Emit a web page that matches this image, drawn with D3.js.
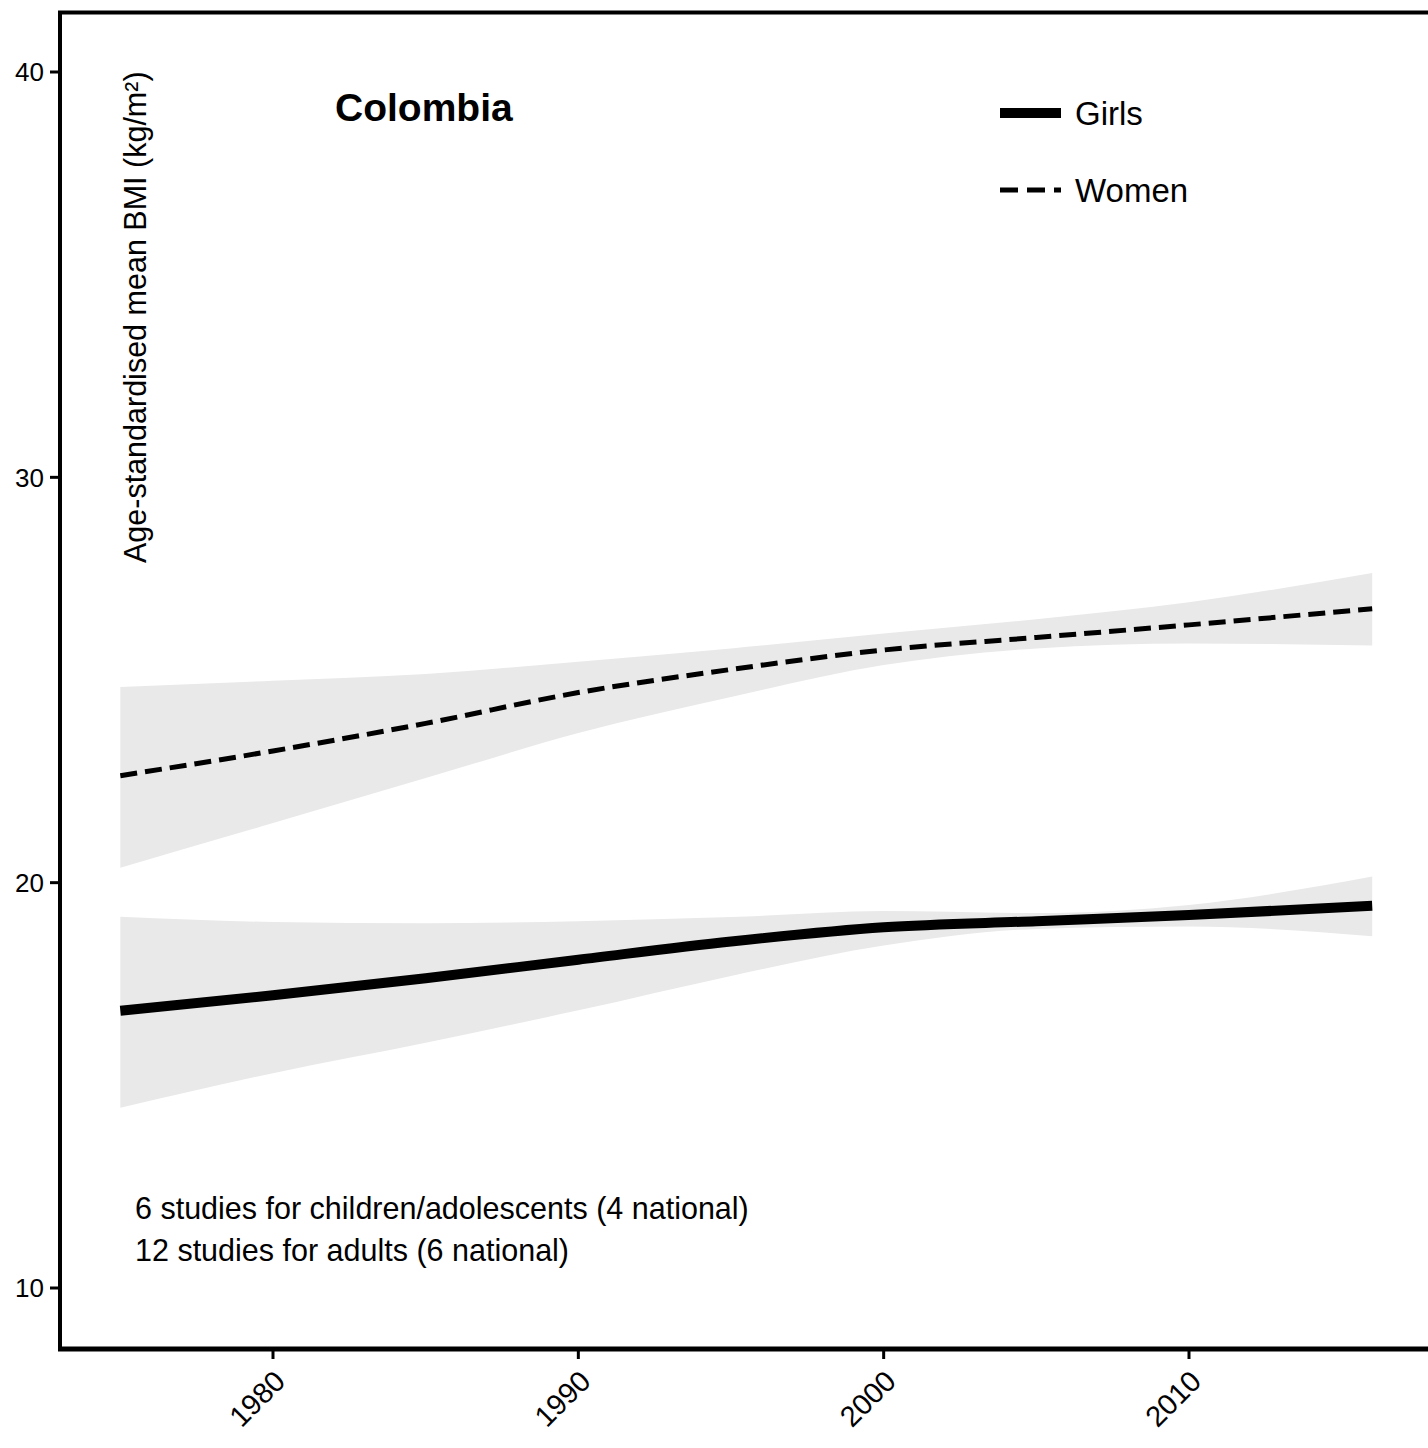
<!DOCTYPE html>
<html><head><meta charset="utf-8">
<script src="https://cdn.jsdelivr.net/npm/d3@7"></script>
<style>body{margin:0;background:#fff}svg{display:block;font-family:"Liberation Sans",Arial,Helvetica,sans-serif}</style>
</head><body><svg id="c" width="1428" height="1448"></svg>
<script>
const years = [1975,1980,1985,1990,1995,2000,2005,2010,2016];
const womenMean = [22.64,23.25,23.93,24.69,25.26,25.74,26.05,26.36,26.76];
const womenUpper = [24.83,24.98,25.15,25.45,25.78,26.15,26.50,26.92,27.64];
const womenLower = [20.37,21.47,22.58,23.69,24.58,25.37,25.78,25.90,25.85];
const girlsMean = [16.84,17.22,17.64,18.10,18.55,18.90,19.05,19.20,19.43];
const girlsUpper = [19.16,19.03,19.00,19.05,19.15,19.30,19.25,19.45,20.15];
const girlsLower = [14.45,15.30,16.05,16.85,17.70,18.45,18.86,18.92,18.68];
const yTicks = [10,20,30,40];
const xTicks = [1980,1990,2000,2010];
const legendLabels = ["Girls","Women"];
const title = "Colombia";
const yLabel = "Age-standardised mean BMI (kg/m²)";
const notes = ["6 studies for children/adolescents (4 national)","12 studies for adults (6 national)"];

const svg = d3.select("#c");
const x = d3.scaleLinear().domain([1980,2010]).range([273,1189]);
const y = d3.scaleLinear().domain([10,40]).range([1288,72]);

const mk = (lo, hi) => years.map((yr,i)=>({yr, lo:lo[i], hi:hi[i]}));
const area = d3.area().x(d=>x(d.yr)).y0(d=>y(d.lo)).y1(d=>y(d.hi)).curve(d3.curveMonotoneX);
const line = d3.line().x(d=>x(d.yr)).y(d=>y(d.v)).curve(d3.curveMonotoneX);

svg.append("path").attr("d", area(mk(womenLower,womenUpper))).attr("fill","#e9e9e9");
svg.append("path").attr("d", area(mk(girlsLower,girlsUpper))).attr("fill","#e9e9e9");
svg.append("path").attr("d", line(years.map((yr,i)=>({yr,v:womenMean[i]})))).attr("fill","none").attr("stroke","#000").attr("stroke-width",5).attr("stroke-dasharray","17 8");
svg.append("path").attr("d", line(years.map((yr,i)=>({yr,v:girlsMean[i]})))).attr("fill","none").attr("stroke","#000").attr("stroke-width",10);

// frame
svg.append("line").attr("x1",58).attr("x2",1430).attr("y1",12.5).attr("y2",12.5).attr("stroke","#000").attr("stroke-width",4);
svg.append("line").attr("x1",60).attr("x2",60).attr("y1",11).attr("y2",1351).attr("stroke","#000").attr("stroke-width",4);
svg.append("line").attr("x1",58).attr("x2",1430).attr("y1",1349).attr("y2",1349).attr("stroke","#000").attr("stroke-width",5);

// y ticks
const yg = svg.append("g");
yTicks.forEach(t=>{
  yg.append("line").attr("x1",50).attr("x2",60).attr("y1",y(t)).attr("y2",y(t)).attr("stroke","#000").attr("stroke-width",3);
  yg.append("text").attr("x",44).attr("y",y(t)).attr("dy","0.36em").attr("text-anchor","end").attr("font-size",26).text(t);
});
// x ticks
const xg = svg.append("g");
xTicks.forEach(t=>{
  xg.append("line").attr("x1",x(t)).attr("x2",x(t)).attr("y1",1351).attr("y2",1359).attr("stroke","#000").attr("stroke-width",3);
  xg.append("text").attr("transform",`translate(${x(t)+14},${1383}) rotate(-45)`).attr("text-anchor","end").attr("font-size",29).text(t);
});

// y label
svg.append("text").attr("transform","translate(146,563) rotate(-90)").attr("font-size",30.5).text(yLabel);
// title
svg.append("text").attr("x",335).attr("y",121).attr("font-size",39).attr("font-weight","bold").text(title);
// legend
svg.append("line").attr("x1",1000).attr("x2",1061).attr("y1",113).attr("y2",113).attr("stroke","#000").attr("stroke-width",10);
svg.append("line").attr("x1",1000).attr("x2",1061).attr("y1",190).attr("y2",190).attr("stroke","#000").attr("stroke-width",5).attr("stroke-dasharray","18 9");
svg.append("text").attr("x",1075).attr("y",113).attr("dy","0.36em").attr("font-size",33).text(legendLabels[0]);
svg.append("text").attr("x",1075).attr("y",190).attr("dy","0.36em").attr("font-size",33).text(legendLabels[1]);
// notes
notes.forEach((n,i)=>svg.append("text").attr("x",135).attr("y",1219+i*42).attr("font-size",30.5).text(n));
</script></body></html>
